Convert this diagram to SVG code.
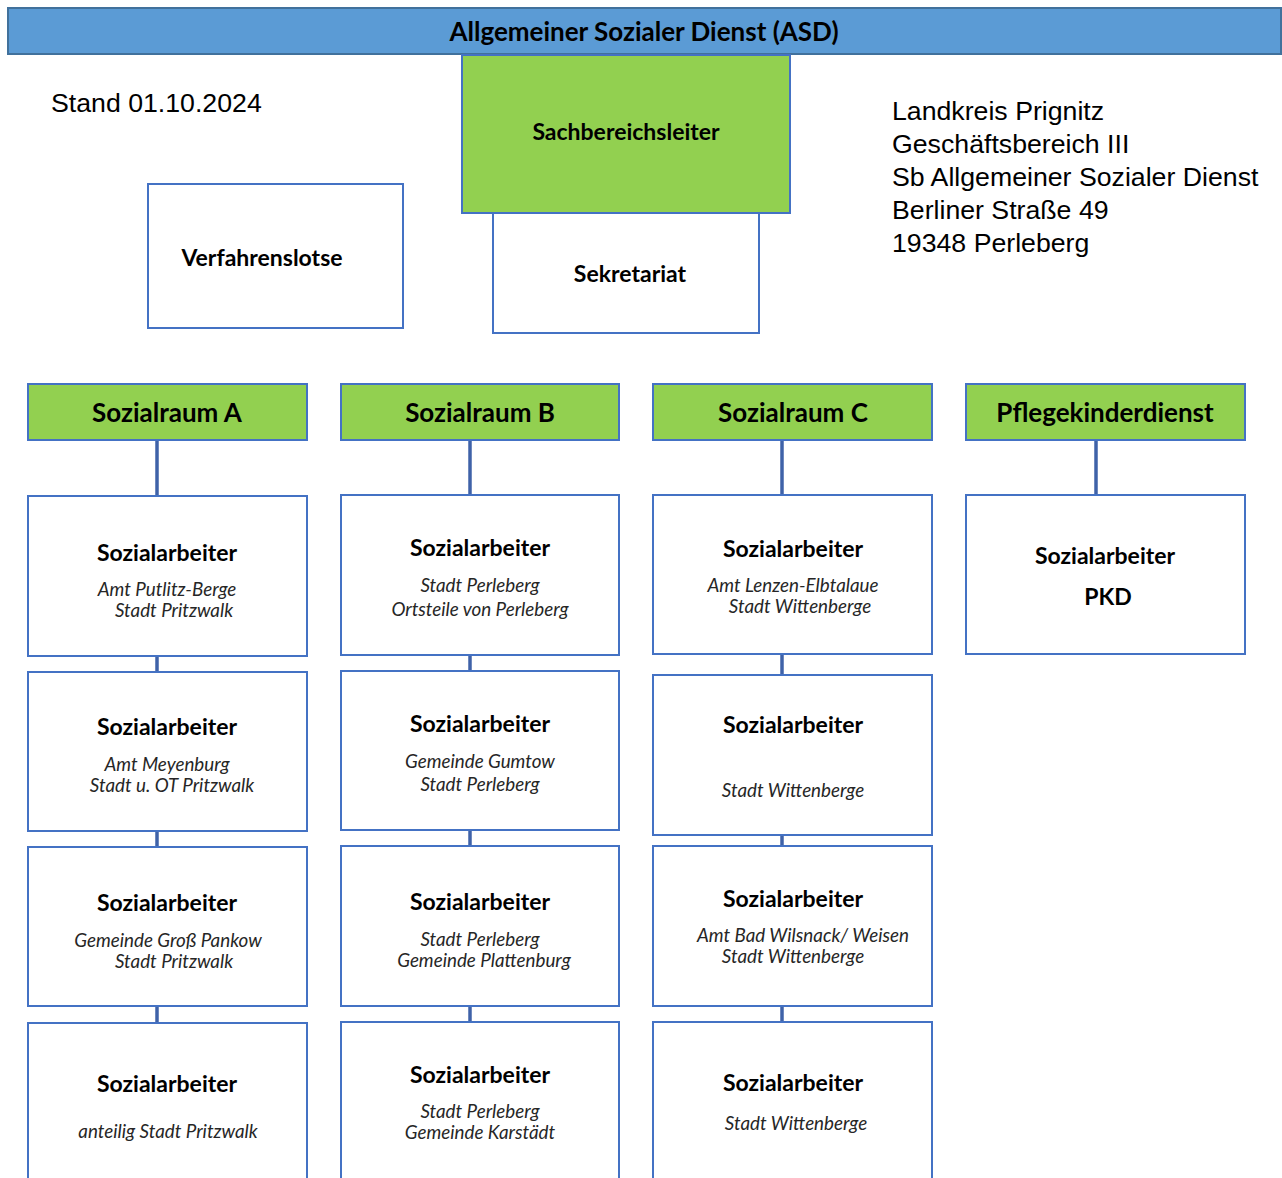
<svg xmlns="http://www.w3.org/2000/svg" width="1282" height="1178" viewBox="0 0 1282 1178">
<style>
.box{fill:#ffffff;stroke:#4472c4;stroke-width:2}
.green{fill:#92d050;stroke:#4472c4;stroke-width:2}
.bar{fill:#5b9bd5;stroke:#41719c;stroke-width:2}
.conn{stroke:#3f62a8;stroke-width:3.5;fill:none}
text{font-family:Lato,"Noto Sans",sans-serif;fill:#000;text-anchor:middle;dominant-baseline:central}
.b{font-weight:bold;font-size:23px}
.h{font-weight:bold;font-size:26px}
.t{font-weight:bold;font-size:26px}
.i{font-style:italic;font-size:18.8px;fill:#262626}
.plain{font-family:"Liberation Sans",Arial,sans-serif;text-anchor:start;font-size:26.7px;fill:#000}
</style>
<rect width="1282" height="1178" fill="#fff"/>
<g id="connectors">
<line class="conn" x1="157" y1="440" x2="157" y2="496"/>
<line class="conn" x1="157" y1="656" x2="157" y2="672"/>
<line class="conn" x1="157" y1="831" x2="157" y2="847"/>
<line class="conn" x1="157" y1="1006" x2="157" y2="1023"/>
<line class="conn" x1="470" y1="440" x2="470" y2="495"/>
<line class="conn" x1="470" y1="655" x2="470" y2="671"/>
<line class="conn" x1="470" y1="830" x2="470" y2="846"/>
<line class="conn" x1="470" y1="1006" x2="470" y2="1022"/>
<line class="conn" x1="782" y1="440" x2="782" y2="495"/>
<line class="conn" x1="782" y1="654" x2="782" y2="675"/>
<line class="conn" x1="782" y1="835" x2="782" y2="846"/>
<line class="conn" x1="782" y1="1006" x2="782" y2="1022"/>
<line class="conn" x1="1096" y1="440" x2="1096" y2="495"/>
</g>
<g id="asd">
<rect class="bar" x="8" y="8" width="1273" height="46"/>
<text class="t" x="644" y="31">Allgemeiner Sozialer Dienst (ASD)</text>
</g>
<g id="stand"><text class="plain" x="51" y="103">Stand 01.10.2024</text></g>
<g id="address">
<text class="plain" x="892" y="111">Landkreis Prignitz</text>
<text class="plain" x="892" y="144">Geschäftsbereich III</text>
<text class="plain" x="892" y="177">Sb Allgemeiner Sozialer Dienst</text>
<text class="plain" x="892" y="210">Berliner Straße 49</text>
<text class="plain" x="892" y="243">19348 Perleberg</text>
</g>
<g id="sachbereichsleiter">
<rect class="green" x="462" y="55" width="328" height="158"/>
<text class="b" x="626" y="131">Sachbereichsleiter</text>
</g>
<g id="sekretariat">
<rect class="box" x="493" y="213" width="266" height="120"/>
<text class="b" x="630" y="273">Sekretariat</text>
</g>
<g id="verfahrenslotse">
<rect class="box" x="148" y="184" width="255" height="144"/>
<text class="b" x="262" y="257">Verfahrenslotse</text>
</g>
<g id="sozialraum-a">
<rect class="green" x="28" y="384" width="279" height="56"/>
<text class="h" x="167" y="412">Sozialraum A</text>
</g>
<g id="sozialraum-b">
<rect class="green" x="341" y="384" width="278" height="56"/>
<text class="h" x="480" y="412">Sozialraum B</text>
</g>
<g id="sozialraum-c">
<rect class="green" x="653" y="384" width="279" height="56"/>
<text class="h" x="793" y="412">Sozialraum C</text>
</g>
<g id="pkd">
<rect class="green" x="966" y="384" width="279" height="56"/>
<text class="h" x="1105" y="412">Pflegekinderdienst</text>
</g>
<g id="a1">
<rect class="box" x="28" y="496" width="279" height="160"/>
<text class="b" x="167" y="552">Sozialarbeiter</text>
<text class="i" x="167" y="588">Amt Putlitz-Berge</text>
<text class="i" x="174" y="609">Stadt Pritzwalk</text>
</g>
<g id="a2">
<rect class="box" x="28" y="672" width="279" height="159"/>
<text class="b" x="167" y="726">Sozialarbeiter</text>
<text class="i" x="167" y="763">Amt Meyenburg</text>
<text class="i" x="172" y="784">Stadt u. OT Pritzwalk</text>
</g>
<g id="a3">
<rect class="box" x="28" y="847" width="279" height="159"/>
<text class="b" x="167" y="902">Sozialarbeiter</text>
<text class="i" x="168" y="939">Gemeinde Groß Pankow</text>
<text class="i" x="174" y="960">Stadt Pritzwalk</text>
</g>
<g id="a4">
<rect class="box" x="28" y="1023" width="279" height="170"/>
<text class="b" x="167" y="1083">Sozialarbeiter</text>
<text class="i" x="168" y="1130">anteilig Stadt Pritzwalk</text>
</g>
<g id="b1">
<rect class="box" x="341" y="495" width="278" height="160"/>
<text class="b" x="480" y="547">Sozialarbeiter</text>
<text class="i" x="480" y="584">Stadt Perleberg</text>
<text class="i" x="480" y="608">Ortsteile von Perleberg</text>
</g>
<g id="b2">
<rect class="box" x="341" y="671" width="278" height="159"/>
<text class="b" x="480" y="723">Sozialarbeiter</text>
<text class="i" x="480" y="760">Gemeinde Gumtow</text>
<text class="i" x="480" y="783">Stadt Perleberg</text>
</g>
<g id="b3">
<rect class="box" x="341" y="846" width="278" height="160"/>
<text class="b" x="480" y="901">Sozialarbeiter</text>
<text class="i" x="480" y="938">Stadt Perleberg</text>
<text class="i" x="484" y="959">Gemeinde Plattenburg</text>
</g>
<g id="b4">
<rect class="box" x="341" y="1022" width="278" height="170"/>
<text class="b" x="480" y="1074">Sozialarbeiter</text>
<text class="i" x="480" y="1110">Stadt Perleberg</text>
<text class="i" x="480" y="1131">Gemeinde Karstädt</text>
</g>
<g id="c1">
<rect class="box" x="653" y="495" width="279" height="159"/>
<text class="b" x="793" y="548">Sozialarbeiter</text>
<text class="i" x="793" y="584">Amt Lenzen-Elbtalaue</text>
<text class="i" x="800" y="605">Stadt Wittenberge</text>
</g>
<g id="c2">
<rect class="box" x="653" y="675" width="279" height="160"/>
<text class="b" x="793" y="724">Sozialarbeiter</text>
<text class="i" x="793" y="789">Stadt Wittenberge</text>
</g>
<g id="c3">
<rect class="box" x="653" y="846" width="279" height="160"/>
<text class="b" x="793" y="898">Sozialarbeiter</text>
<text class="i" x="803" y="934">Amt Bad Wilsnack/ Weisen</text>
<text class="i" x="793" y="955">Stadt Wittenberge</text>
</g>
<g id="c4">
<rect class="box" x="653" y="1022" width="279" height="170"/>
<text class="b" x="793" y="1082">Sozialarbeiter</text>
<text class="i" x="796" y="1122">Stadt Wittenberge</text>
</g>
<g id="pkd1">
<rect class="box" x="966" y="495" width="279" height="159"/>
<text class="b" x="1105" y="555">Sozialarbeiter</text>
<text class="b" x="1108" y="596">PKD</text>
</g>
</svg>
